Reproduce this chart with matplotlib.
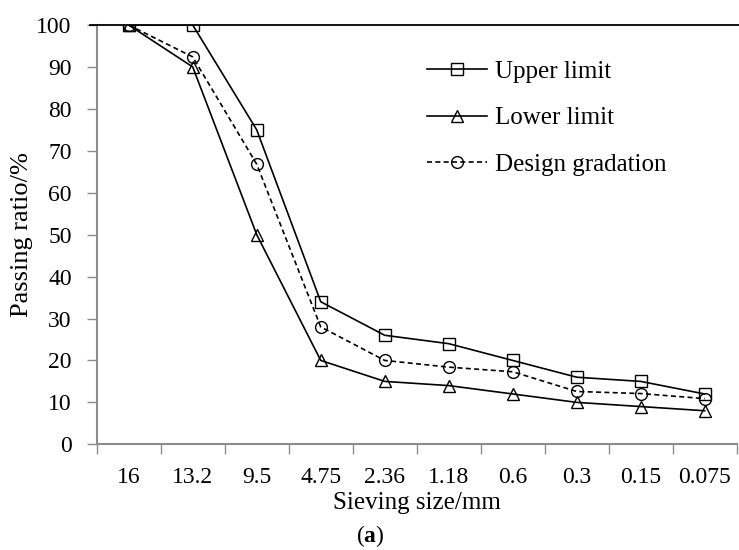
import matplotlib
matplotlib.use("Agg")
import matplotlib.pyplot as plt
from matplotlib.lines import Line2D
import numpy as np

plt.rcParams['font.family'] = ['Liberation Serif', 'DejaVu Serif']
plt.rcParams['mathtext.fontset'] = 'custom'
plt.rcParams['mathtext.rm'] = 'Liberation Serif'
plt.rcParams['mathtext.bf'] = 'Liberation Serif:bold'

# Sieve sizes (mm) and passing ratios (%)
sieve_sizes = ["16", "13.2", "9.5", "4.75", "2.36", "1.18", "0.6", "0.3", "0.15", "0.075"]
upper_limit = [100, 100, 75, 34, 26, 24, 20, 16, 15, 12]
lower_limit = [100, 90, 50, 20, 15, 14, 12, 10, 9, 8]
design_gradation = [100, 92.4, 66.8, 28.0, 20.0, 18.4, 17.3, 12.6, 12.1, 10.9]
y_ticks = [0, 10, 20, 30, 40, 50, 60, 70, 80, 90, 100]

TICK_FS = 17
LABEL_FS = 18
GRAY = '#8c8c8c'

W, H = 739, 550
fig = plt.figure(figsize=(W / 100, H / 100), dpi=100)
ax_left, ax_bottom, ax_w, ax_h = 0.1309, 0.1922, 0.8660, 0.7623
ax = fig.add_axes([ax_left, ax_bottom, ax_w, ax_h])

x = np.arange(len(sieve_sizes))
ax.plot(x, upper_limit, '-', color='black', lw=1.2, marker='s', ms=8.5,
        mfc='none', mec='black', mew=1.0, label='Upper limit')
ax.plot(x, lower_limit, '-', color='black', lw=1.2, marker='^', ms=9,
        mfc='none', mec='black', mew=1.0, label='Lower limit')
ax.plot(x, design_gradation, '--', color='black', lw=1.2, marker='o', ms=8.5,
        mfc='none', mec='black', mew=1.0, dashes=(3, 2), label='Design gradation')

ax.set_xlim(-0.5, len(sieve_sizes) - 0.5)
ax.set_ylim(0, 100)
ax.set_yticks(y_ticks)
ax.set_yticklabels([str(v) for v in y_ticks], fontsize=TICK_FS)

# Category labels centred, tick marks on the category boundaries
ax.set_xticks(x)
ax.set_xticklabels(sieve_sizes, fontsize=TICK_FS)
ax.tick_params(axis='x', which='major', length=0, pad=16)
ax.set_xticks(np.arange(-0.5, len(sieve_sizes), 1.0), minor=True)
ax.tick_params(axis='x', which='minor', length=7, width=1.0, color=GRAY, direction='out')
ax.tick_params(axis='y', which='major', length=7, width=1.0, color=GRAY, direction='out', pad=11)

for side in ('left', 'bottom'):
    ax.spines[side].set_color(GRAY)
    ax.spines[side].set_linewidth(1.5)
ax.spines['right'].set_visible(False)
ax.spines['top'].set_visible(False)

# Black rule along the 100 % level, running out to the right edge
y_top = ax_bottom + ax_h
fig.add_artist(Line2D([ax_left - 7 / W, 1.0], [y_top, y_top], color='black',
                      lw=1.3, transform=fig.transFigure))

ax.set_xlabel('Sieving size/mm', fontsize=LABEL_FS)
ax.xaxis.set_label_coords(0.5, -0.114)
ax.set_ylabel('Passing ratio/%', fontsize=LABEL_FS + 1)
ax.yaxis.set_label_coords(-0.0995, 0.5)

leg = ax.legend(loc='upper left', bbox_to_anchor=(0.501, 0.94), frameon=False,
                fontsize=LABEL_FS, handlelength=2.4, handletextpad=0.3, labelspacing=0.97,
                borderaxespad=0)

fig.text(370 / W, 1 - 536 / H, r'(' + r'$\mathbf{a}$' + ')', ha='center', va='center',
         fontsize=TICK_FS)

fig.savefig('out.png', dpi=100)
